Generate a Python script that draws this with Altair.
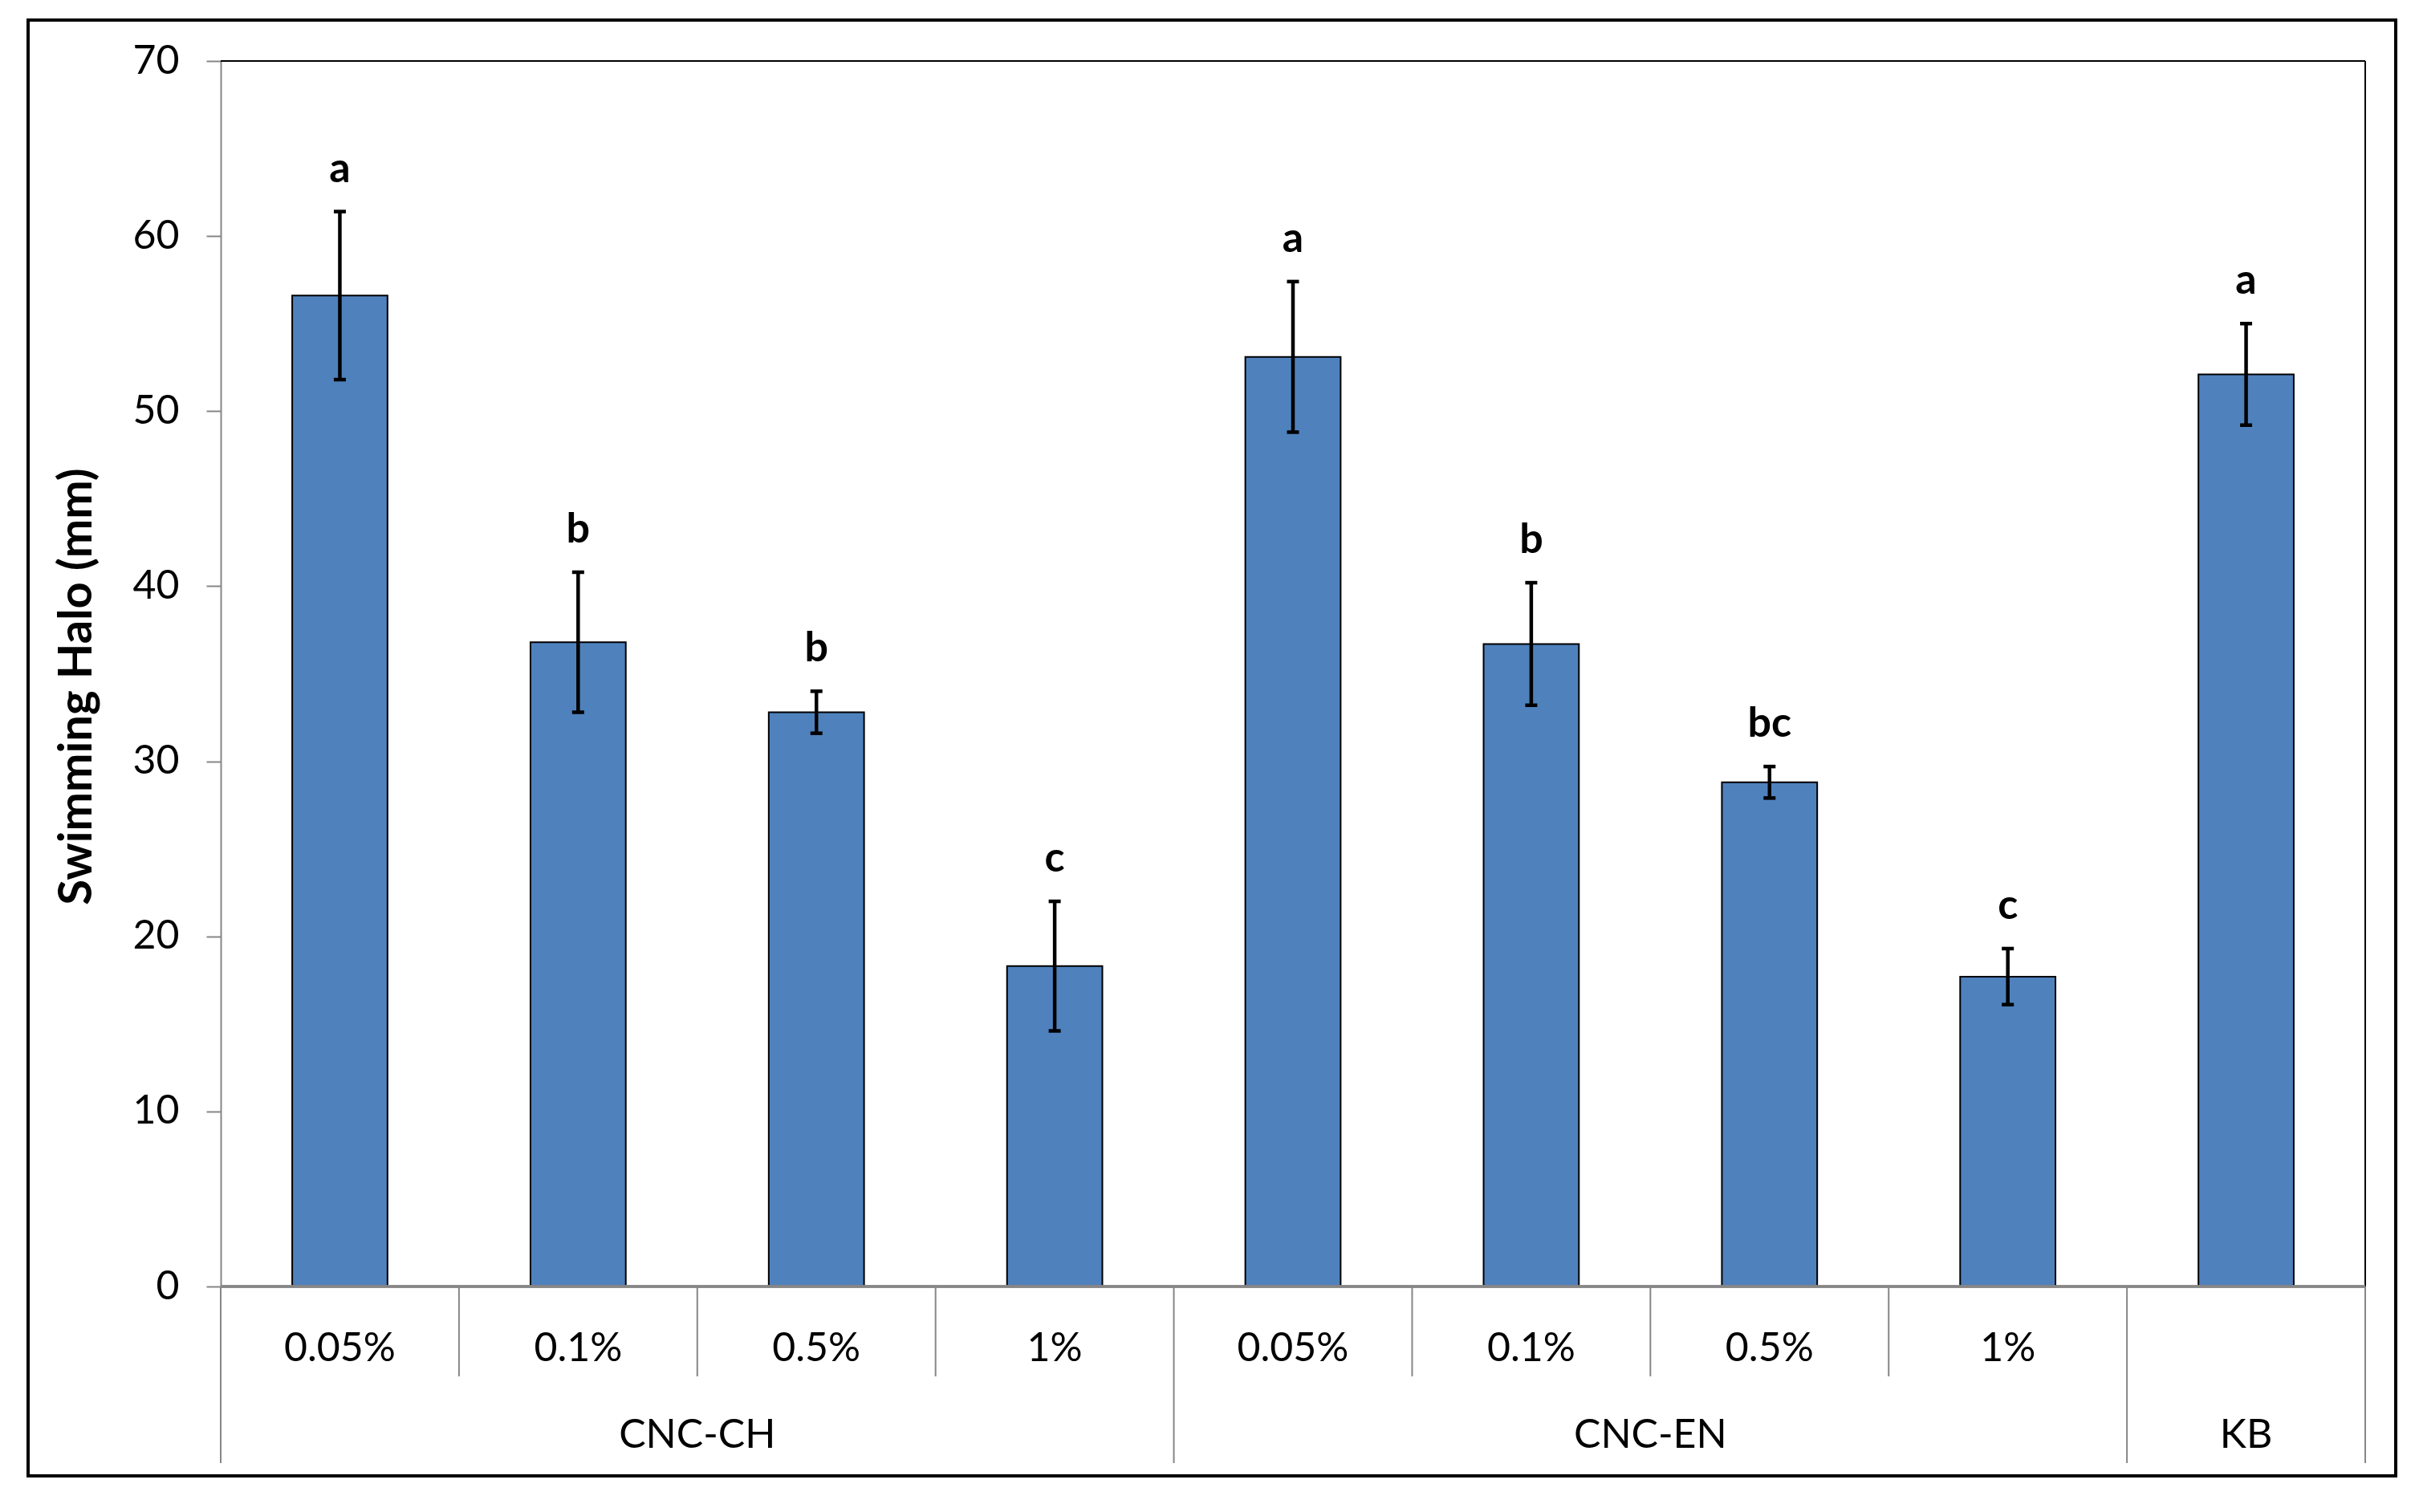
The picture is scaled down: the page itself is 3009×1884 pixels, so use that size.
import altair as alt
import pandas as pd

# ---- data ----
groups = ["CNC-CH", "CNC-CH", "CNC-CH", "CNC-CH",
          "CNC-EN", "CNC-EN", "CNC-EN", "CNC-EN", "KB"]
concentrations = ["0.05%", "0.1%", "0.5%", "1%",
                  "0.05%", "0.1%", "0.5%", "1%", ""]
means = [56.6, 36.8, 32.8, 18.3, 53.1, 36.7, 28.8, 17.7, 52.1]
errors = [4.8, 4.0, 1.2, 3.7, 4.3, 3.5, 0.9, 1.6, 2.9]
letters = ["a", "b", "b", "c", "a", "b", "bc", "c", "a"]
y_ticks = [0, 10, 20, 30, 40, 50, 60, 70]

# ---- layout ----
W, H = 2672, 1527
BAR_FRAC = 0.4
FONT = "Lato"
GRAY = "#868686"
BLUE = "#4F81BD"

n = len(means)
df = pd.DataFrame({
    "group": groups, "conc": concentrations, "mean": means,
    "err": errors, "letter": letters,
})
df["pos"] = [i + 0.5 for i in range(n)]
df["x0"] = df["pos"] - BAR_FRAC / 2
df["x1"] = df["pos"] + BAR_FRAC / 2
df["lo"] = df["mean"] - df["err"]
df["hi"] = df["mean"] + df["err"]
df["zero"] = 0.0

grp = df.groupby("group", sort=False)["pos"].mean().reset_index()

bounds = []
for b in range(n + 1):
    long_ = b == 0 or b == n or groups[b] != groups[b - 1]
    bounds.append({"b": b, "long": long_})
bdf = pd.DataFrame(bounds)

xs = alt.Scale(domain=[0, n], nice=False, zero=False)
ys = alt.Scale(domain=[0, 70], nice=False, zero=True)

y_axis = alt.Axis(
    values=y_ticks, title="Swimming Halo (mm)", grid=False,
    domainColor=GRAY, domainWidth=2, tickColor=GRAY, tickWidth=2,
    tickSize=18, labelFont=FONT, labelFontSize=50, labelColor="#000000",
    labelPadding=34, titleFont=FONT, titleFontWeight="bold",
    titleFontSize=58, titleColor="#000000", titleAngle=270,
    titleX=-162, titleY=779, titleAlign="center",
    titleBaseline="alphabetic",
)


def Y(field):
    return alt.Y(field, scale=ys, axis=y_axis)


def X(field):
    return alt.X(field, scale=xs, axis=None)


base = alt.Chart(df)

bars = base.mark_bar(fill=BLUE, stroke="#000000", strokeWidth=2).encode(
    x=X("x0:Q"), x2="x1:Q",
    y=Y("mean:Q"), y2="zero:Q",
)

stems = base.mark_rule(color="#000000", strokeWidth=4.5).encode(
    x=X("pos:Q"), y=Y("lo:Q"), y2="hi:Q",
)
cap_hi = base.mark_rule(color="#000000", strokeWidth=4.5,
                        xOffset=-7.5, x2Offset=7.5).encode(
    x=X("pos:Q"), x2="pos:Q", y=Y("hi:Q"),
)
cap_lo = base.mark_rule(color="#000000", strokeWidth=4.5,
                        xOffset=-7.5, x2Offset=7.5).encode(
    x=X("pos:Q"), x2="pos:Q", y=Y("lo:Q"),
)

letter_txt = base.mark_text(font=FONT, fontWeight="bold", fontSize=52,
                            baseline="alphabetic", align="center", dy=-37,
                            color="#000000").encode(
    x=X("pos:Q"), y=Y("hi:Q"), text="letter:N",
)

conc_txt = base.mark_text(font=FONT, fontSize=50, baseline="alphabetic",
                          align="center", color="#000000").encode(
    x=X("pos:Q"), y=alt.value(1620), text="conc:N",
)

group_txt = alt.Chart(grp).mark_text(font=FONT, fontSize=50,
                                     baseline="alphabetic", align="center",
                                     color="#000000").encode(
    x=X("pos:Q"), y=alt.value(1728), text="group:N",
)

sep_long = alt.Chart(bdf).transform_filter("datum.long").mark_rule(
    color=GRAY, strokeWidth=2).encode(
    x=X("b:Q"), y=alt.value(H), y2=alt.value(1747),
)
sep_short = alt.Chart(bdf).transform_filter("!datum.long").mark_rule(
    color=GRAY, strokeWidth=2).encode(
    x=X("b:Q"), y=alt.value(H), y2=alt.value(1639),
)

baseline_rule = base.mark_rule(color=GRAY, strokeWidth=2.5).encode(
    x=alt.value(0), x2=alt.value(W), y=Y("zero:Q"),
)
top_rule = base.mark_rule(color="#000000", strokeWidth=2).encode(
    x=alt.value(0), x2=alt.value(W), y=alt.value(0),
)
right_rule = base.mark_rule(color="#000000", strokeWidth=2).encode(
    x=alt.value(W), y=alt.value(0), y2=alt.value(H),
)

frame = base.mark_rect(fillOpacity=0, stroke="#000000",
                       strokeWidth=3).encode(
    x=alt.value(-240), x2=alt.value(2710),
    y=alt.value(-51), y2=alt.value(1763),
)

chart = alt.layer(
    frame, top_rule, right_rule, bars, stems, cap_hi, cap_lo, letter_txt,
    sep_long, sep_short, baseline_rule, conc_txt, group_txt,
).properties(
    width=W, height=H,
    autosize=alt.AutoSizeParams(type="none"),
    padding={"left": 267, "top": 68, "right": 52, "bottom": 260},
).configure_view(stroke=None).configure(background="white")

chart.save("out.html", embed_options={"renderer": "svg", "actions": False})
